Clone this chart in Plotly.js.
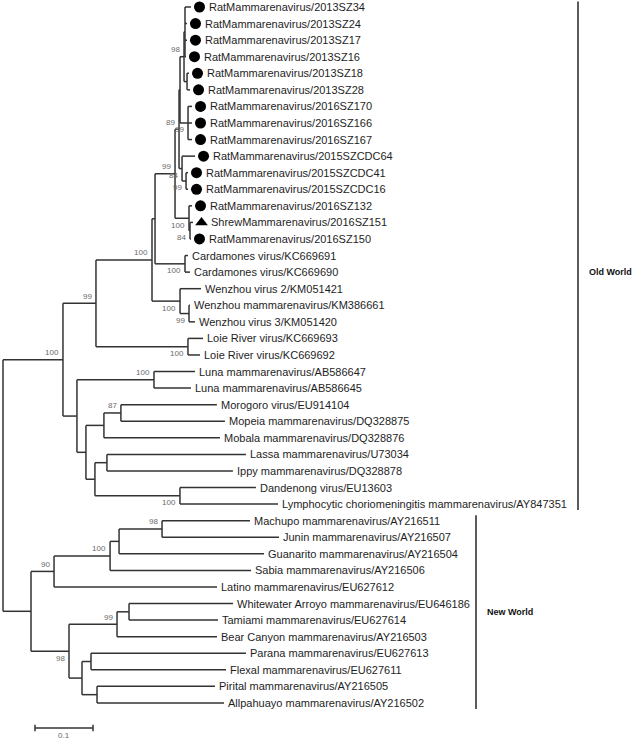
<!DOCTYPE html>
<html><head><meta charset="utf-8">
<script src="https://cdn.plot.ly/plotly-3.0.1.min.js"></script>
<style>html,body{margin:0;padding:0;background:#fff}</style>
</head><body><div id="chart" style="width:632px;height:739px"></div>
<script>
// ---------- DATA ----------
const taxa = [
  "RatMammarenavirus/2013SZ34","RatMammarenavirus/2013SZ24","RatMammarenavirus/2013SZ17",
  "RatMammarenavirus/2013SZ16","RatMammarenavirus/2013SZ18","RatMammarenavirus/2013SZ28",
  "RatMammarenavirus/2016SZ170","RatMammarenavirus/2016SZ166","RatMammarenavirus/2016SZ167",
  "RatMammarenavirus/2015SZCDC64","RatMammarenavirus/2015SZCDC41","RatMammarenavirus/2015SZCDC16",
  "RatMammarenavirus/2016SZ132","ShrewMammarenavirus/2016SZ151","RatMammarenavirus/2016SZ150",
  "Cardamones virus/KC669691","Cardamones virus/KC669690",
  "Wenzhou virus 2/KM051421","Wenzhou mammarenavirus/KM386661","Wenzhou virus 3/KM051420",
  "Loie River virus/KC669693","Loie River virus/KC669692",
  "Luna mammarenavirus/AB586647","Luna mammarenavirus/AB586645",
  "Morogoro virus/EU914104","Mopeia mammarenavirus/DQ328875","Mobala mammarenavirus/DQ328876",
  "Lassa mammarenavirus/U73034","Ippy mammarenavirus/DQ328878","Dandenong virus/EU13603",
  "Lymphocytic choriomeningitis mammarenavirus/AY847351",
  "Machupo mammarenavirus/AY216511","Junin mammarenavirus/AY216507","Guanarito mammarenavirus/AY216504",
  "Sabia mammarenavirus/AY216506","Latino mammarenavirus/EU627612",
  "Whitewater Arroyo mammarenavirus/EU646186","Tamiami mammarenavirus/EU627614",
  "Bear Canyon mammarenavirus/AY216503","Parana mammarenavirus/EU627613",
  "Flexal mammarenavirus/EU627611","Pirital mammarenavirus/AY216505","Allpahuayo mammarenavirus/AY216502"
];
// marker shown before the taxon name ("" = none)
const taxonMark = [
  "circle","circle","circle","circle","circle","circle",
  "circle","circle","circle","circle","circle","circle",
  "circle","triangle-up","circle"
];
// tree topology, bootstrap support and branch lengths (leaves = index into taxa)
const treeNewick =
  "(((((((((((0:0.0103,1:0.0034,2:0.0034,3:0.0017):0.0017,(4:0.0034,5:0.0052):0.0052)98:0.0069," +
  "(6:0.0069,7:0.0069,8:0.0069)99:0.0138):0.0017,(9:0.0224,(10:0.0034,11:0.0034)99:0.0069)84:0.0052)89:0.0069," +
  "(12:0.0052,(13:0.0052,14:0.0017)84:0.0017)100:0.0241)99:0.0345," +
  "(15:0.0052,16:0.0086)100:0.0517):0.0052," +
  "(17:0.0362,(18:0.0017,19:0.0103)99:0.0155)100:0.0483)100:0.0966," +
  "(20:0.0259,21:0.0207)100:0.1586)99:0.0569," +
  "((22:0.0707,23:0.0638)100:0.1328," +
  "(((24:0.1655,25:0.1793)87:0.0293,26:0.2):0.031," +
  "((27:0.2397,28:0.2172):0.0207,(29:0.131,30:0.169)100:0.1466):0.0155):0.0155):0.0241)100:0.1034," +
  "((((( 31:0.1517,32:0.2017)98:0.0741,33:0.25):0.0155,34:0.2431)100:0.0966,35:0.281)90:0.0397," +
  "(((36:0.1793,37:0.1534):0.0207,38:0.1724)99:0.0828," +
  "((39:0.2672,40:0.2328):0.0155,(41:0.2034,42:0.219):0.0259):0.0224)98:0.0655):0.0483);";
const cladeNames = ["Old World", "New World"];
const cladeFirst = [0, 31];
const cladeLast  = [30, 42];
const scaleBarValue = 0.1;
const scaleBarLabel = "0.1";

// ---------- PARSE + LAYOUT ----------
function parseNewick(str){
  const s = str.replace(/\s+/g, "");
  let i = 0;
  function node(){
    const n = {children: [], label: "", len: 0};
    if (s[i] === "(") {
      i++;
      n.children.push(node());
      while (s[i] === ",") { i++; n.children.push(node()); }
      i++; // ')'
    }
    let name = "";
    while (i < s.length && !",():;".includes(s[i])) name += s[i++];
    n.label = name;
    if (s[i] === ":") {
      i++;
      let num = "";
      while (i < s.length && !",();".includes(s[i])) num += s[i++];
      n.len = parseFloat(num);
    }
    return n;
  }
  return node();
}
const root = parseNewick(treeNewick);
const leaves = [], internals = [];
function place(n, x){
  n.x = x;
  if (!n.children.length) { n.leaf = parseInt(n.label, 10); n.y = n.leaf; leaves.push(n); }
  else {
    n.children.forEach(c => { c.parent = n; place(c, x + c.len); });
    n.y = (n.children[0].y + n.children[n.children.length - 1].y) / 2;
    internals.push(n);
  }
}
place(root, 0);

// ---------- GEOMETRY (page pixels -> axes) ----------
const W = 632, H = 739;
const pxPerUnit = 580, rootPx = 3;
const pxPerLeaf = 16.57, firstLeafPx = 7;
const xRange = [-rootPx / pxPerUnit, (W - rootPx) / pxPerUnit];
const yRange = [(H - firstLeafPx) / pxPerLeaf, -firstLeafPx / pxPerLeaf];

// branches
const bx = [], by = [];
internals.forEach(n => {
  const a = n.children[0].y, b = n.children[n.children.length - 1].y;
  bx.push(n.x, n.x, null); by.push(a, b, null);
  n.children.forEach(c => { bx.push(n.x, c.x, null); by.push(c.y, c.y, null); });
});

const FONT = "Liberation Sans, Arial, Helvetica, sans-serif";
const annotations = [];
const markX = [], markY = [], markSym = [];
leaves.forEach(l => {
  const mark = taxonMark[l.leaf] || "";
  if (mark) { markX.push(l.x + 8.5 / pxPerUnit); markY.push(l.y); markSym.push(mark); }
  annotations.push({
    x: l.x, y: l.y, xref: "x", yref: "y", text: taxa[l.leaf], showarrow: false,
    xanchor: "left", yanchor: "middle", xshift: mark ? 16 : 2,
    font: {family: FONT, size: 11, color: "#1e1e1e"}
  });
});
internals.forEach(n => {
  if (!n.label || !n.parent) return;
  const upper = n.parent.children[0] === n;
  annotations.push({
    x: n.x, y: n.y, xref: "x", yref: "y", text: n.label, showarrow: false,
    xanchor: "right", yanchor: "middle", xshift: -2, yshift: upper ? 7 : -7,
    font: {family: FONT, size: 8, color: "#6a6a6a"}
  });
});

// clade brackets
const shapes = [];
const bracketPx = [578, 476];
const labelY = [16, (cladeFirst[1] + cladeLast[1]) / 2];
cladeNames.forEach((name, k) => {
  const xp = bracketPx[k] / W;
  shapes.push({type: "line", xref: "paper", yref: "y", x0: xp, x1: xp,
    y0: cladeFirst[k] - 0.33, y1: cladeLast[k] + 0.36, line: {color: "#333", width: 1.6}});
  annotations.push({x: xp, y: labelY[k], xref: "paper", yref: "y", text: "<b>" + name + "</b>",
    showarrow: false, xanchor: "left", yanchor: "middle", xshift: 9,
    font: {family: FONT, size: 9, color: "#111"}});
});

// scale bar
const sbX0 = (35 - rootPx) / pxPerUnit;
const sbY = (728 - firstLeafPx) / pxPerLeaf;
const tk = 0.2;
const sbx = [sbX0, sbX0 + scaleBarValue, null, sbX0, sbX0, null, sbX0 + scaleBarValue, sbX0 + scaleBarValue];
const sby = [sbY, sbY, null, sbY - tk, sbY + tk, null, sbY - tk, sbY + tk];
annotations.push({x: sbX0 + scaleBarValue / 2, y: sbY, xref: "x", yref: "y", text: scaleBarLabel,
  showarrow: false, xanchor: "center", yanchor: "top", yshift: -1,
  font: {family: FONT, size: 8, color: "#6a6a6a"}});

const traces = [
  {x: bx, y: by, mode: "lines", line: {color: "#333", width: 1.5}, hoverinfo: "skip", showlegend: false},
  {x: sbx, y: sby, mode: "lines", line: {color: "#333", width: 1.5}, hoverinfo: "skip", showlegend: false},
  {x: markX, y: markY, mode: "markers", marker: {symbol: markSym, size: 11, color: "#000"},
   hoverinfo: "skip", showlegend: false}
];
const layout = {
  width: W, height: H, margin: {l: 0, r: 0, t: 0, b: 0},
  paper_bgcolor: "#fff", plot_bgcolor: "#fff",
  xaxis: {range: xRange, visible: false, fixedrange: true},
  yaxis: {range: yRange, visible: false, fixedrange: true},
  annotations: annotations, shapes: shapes, showlegend: false
};
Plotly.newPlot("chart", traces, layout, {staticPlot: true, displayModeBar: false});
</script></body></html>
